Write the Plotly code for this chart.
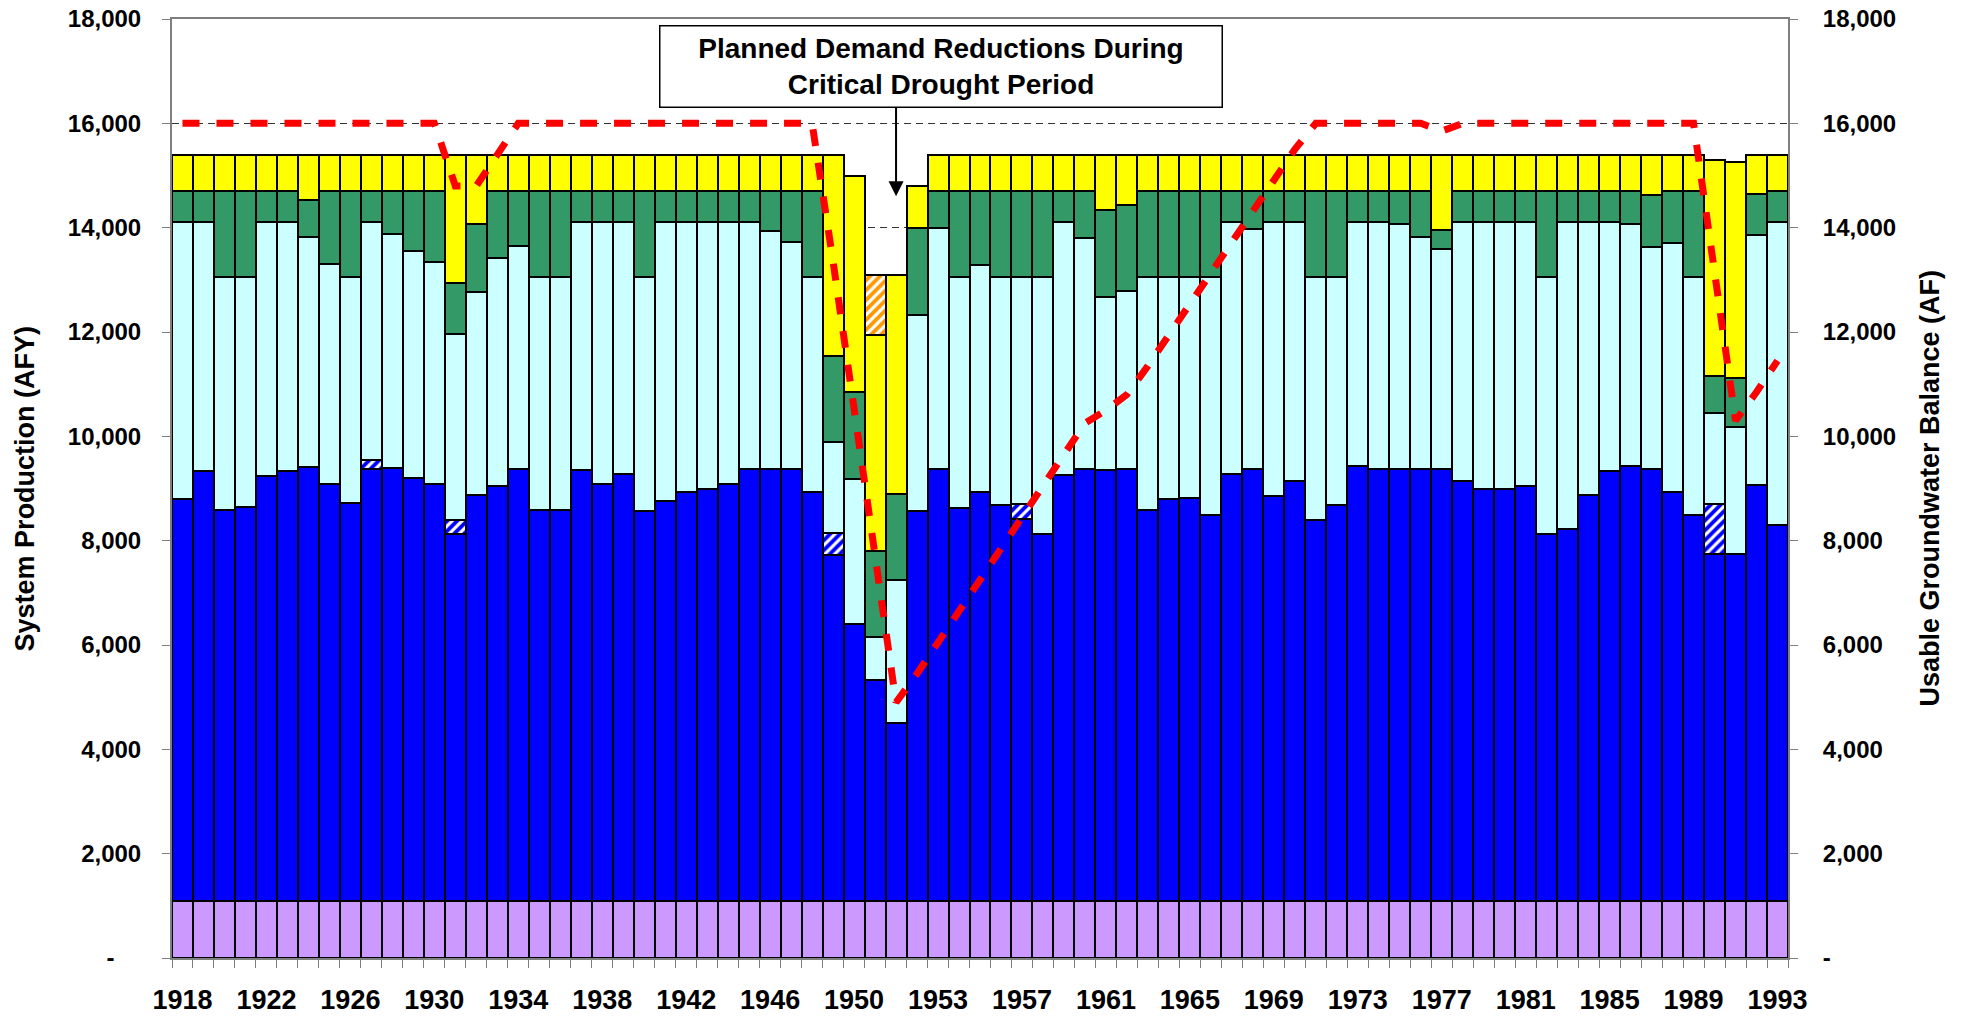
import plotly.graph_objects as go

# bar index 0..76 (water years 1918-1993, one extra drought year in the early 1950s)
n_bars = 77
tick_labels = ["1918", "1922", "1926", "1930", "1934", "1938", "1942", "1946", "1950", "1953",
               "1957", "1961", "1965", "1969", "1973", "1977", "1981", "1985", "1989", "1993"]

# stacked series, AFY
base_supply = [1100] * 77
groundwater = [7700, 8230, 7480, 7550, 8140, 8240, 8310, 7990, 7620, 8280,
               8290, 8100, 7990, 7030, 7780, 7950, 8280, 7490, 7480, 8260,
               7980, 8170, 7460, 7670, 7830, 7890, 7990, 8270, 8270, 8270,
               7830, 6620, 5300, 4230, 3400, 7470, 8280, 7530, 7830, 7580,
               7320, 7030, 8150, 8280, 8260, 8280, 7490, 7700, 7720, 7390,
               8180, 8280, 7760, 8040, 7300, 7590, 8340, 8280, 8280, 8280,
               8280, 8040, 7900, 7900, 7940, 7030, 7130, 7780, 8240, 8330,
               8280, 7830, 7390, 6640, 6640, 7970, 7210]
groundwater_extra = {9: 170, 13: 270, 31: 430, 40: 280, 73: 960}
surface_water = [5300, 4770, 4470, 4400, 4860, 4760, 4410, 4220, 4330, 4550,
                 4480, 4350, 4250, 3570, 3890, 4370, 4270, 4460, 4470, 4740,
                 5020, 4830, 4490, 5330, 5170, 5110, 5010, 4730, 4570, 4360,
                 4120, 1740, 2790, 820, 2750, 3750, 4620, 4420, 4350, 4370,
                 4350, 4920, 4850, 4430, 3310, 3400, 4460, 4250, 4230, 4560,
                 4820, 4600, 5240, 4960, 4650, 4360, 4660, 4720, 4690, 4440,
                 4210, 4960, 5100, 5100, 5060, 4920, 5870, 5220, 4760, 4640,
                 4250, 4780, 4560, 1740, 2440, 4780, 5790]
imported = [600, 600, 1650, 1650, 600, 600, 710, 1390, 1650, 600,
            830, 1150, 1360, 960, 1300, 1280, 1050, 1650, 1650, 600,
            600, 600, 1650, 600, 600, 600, 600, 600, 760, 970,
            1650, 1650, 1660, 1650, 1650, 1680, 700, 1650, 1420, 1650,
            1650, 1650, 600, 890, 1660, 1650, 1650, 1650, 1650, 1650,
            600, 720, 600, 600, 1650, 1650, 600, 600, 630, 880,
            370, 600, 600, 600, 600, 1650, 600, 600, 600, 630,
            990, 990, 1650, 710, 930, 800, 600]
demand_reduction = [700, 700, 700, 700, 700, 700, 870, 700, 700, 700,
                    700, 700, 700, 2470, 1330, 700, 700, 700, 700, 700,
                    700, 700, 700, 700, 700, 700, 700, 700, 700, 700,
                    700, 3860, 4150, 4150, 4200, 800, 700, 700, 700, 700,
                    700, 700, 700, 700, 1070, 970, 700, 700, 700, 700,
                    700, 700, 700, 700, 700, 700, 700, 700, 700, 700,
                    1440, 700, 700, 700, 700, 700, 700, 700, 700, 700,
                    780, 700, 700, 4150, 4140, 750, 700]
shortage = {33: 1150}

# secondary axis, AF
usable_balance = [16000, 16000, 16000, 16000, 16000, 16000, 16000, 16000, 16000, 16000,
                  16000, 16000, 16000, 14800, 14800, 15400, 16000, 16000, 16000, 16000,
                  16000, 16000, 16000, 16000, 16000, 16000, 16000, 16000, 16000, 16000,
                  16000, 13350, 10500, 7700, 4900, 5450, 6050, 6650, 7250, 7850,
                  8450, 9050, 9650, 10250, 10500, 10800, 11350, 11950, 12550, 13150,
                  13700, 14300, 14900, 15500, 16000, 16000, 16000, 16000, 16000, 16000,
                  15850, 16000, 16000, 16000, 16000, 16000, 16000, 16000, 16000, 16000,
                  16000, 16000, 16000, 13150, 10300, 10850, 11450]

y_ticks = list(range(0, 18001, 2000))
left_text = ["-\u00a0\u00a0\u00a0\u00a0"] + [f"{v:,}" for v in y_ticks[1:]]
right_text = ["-"] + [f"{v:,}" for v in y_ticks[1:]]

x = list(range(n_bars))
edge = dict(color="black", width=2)
font = "Liberation Sans, Arial, sans-serif"

fig = go.Figure()
fig.add_bar(x=x, y=base_supply, marker=dict(color="#CC99FF", line=edge))
fig.add_bar(x=x, y=groundwater, marker=dict(color="#0000FF", line=edge))
fig.add_bar(x=x, y=[groundwater_extra.get(i) for i in x],
            marker=dict(color="#0000FF", line=edge,
                        pattern=dict(shape="/", fgcolor="white", bgcolor="#0000FF",
                                     size=7, solidity=0.45, fillmode="replace")))
fig.add_bar(x=x, y=surface_water, marker=dict(color="#CCFFFF", line=edge))
fig.add_bar(x=x, y=imported, marker=dict(color="#339966", line=edge))
fig.add_bar(x=x, y=demand_reduction, marker=dict(color="#FFFF00", line=edge))
fig.add_bar(x=x, y=[shortage.get(i) for i in x],
            marker=dict(color="#FF9900", line=edge,
                        pattern=dict(shape="/", fgcolor="white", bgcolor="#FF9900",
                                     size=7, solidity=0.45, fillmode="replace")))
fig.add_scatter(x=x, y=usable_balance, yaxis="y2", mode="lines",
                line=dict(color="#FF0000", width=7, dash="17px,17px"))

axis_line = "#7f7f7f"
fig.update_layout(
    width=1961, height=1018,
    margin=dict(l=172, r=173, t=19, b=60, autoexpand=False),
    barmode="stack", bargap=0,
    showlegend=False,
    plot_bgcolor="white", paper_bgcolor="white",
    font=dict(family=font, color="black"),
    xaxis=dict(range=[-0.5, 76.5], tickmode="array", tickvals=list(range(0, 77, 4)),
               ticktext=tick_labels, ticks="", ticklabelstandoff=17,
               tickfont=dict(size=27, weight="bold"), automargin=False,
               ticklabeloverflow="allow",
               minor=dict(tickmode="linear", tick0=-0.5, dtick=1, ticks="outside",
                          ticklen=8, tickcolor=axis_line, showgrid=False),
               showline=True, linecolor=axis_line, linewidth=2, mirror=True,
               showgrid=False, zeroline=False),
    yaxis=dict(range=[0, 18000], tickmode="array", tickvals=y_ticks, ticktext=left_text,
               ticks="outside", ticklen=8, tickcolor=axis_line, ticklabelstandoff=16,
               tickfont=dict(size=24, weight="bold"), automargin=False,
               ticklabeloverflow="allow",
               showline=True, linecolor=axis_line, linewidth=2,
               showgrid=True, gridcolor="#333333", gridwidth=1, griddash="7px,5px",
               zeroline=False),
    yaxis2=dict(range=[0, 18000], overlaying="y", side="right", tickmode="array",
                tickvals=y_ticks, ticktext=right_text, automargin=False,
                ticks="outside", ticklen=8, tickcolor=axis_line, ticklabelstandoff=20,
                tickfont=dict(size=24, weight="bold"), ticklabeloverflow="allow",
                showline=True, linecolor=axis_line, linewidth=2,
                showgrid=False, zeroline=False),
)

fig.add_annotation(xref="paper", yref="paper", x=-0.091, y=0.5, textangle=-90,
                   text="System Production (AFY)", showarrow=False,
                   font=dict(size=27, weight="bold"), xanchor="center", yanchor="middle")
fig.add_annotation(xref="paper", yref="paper", x=1.0873, y=0.5, textangle=-90,
                   text="Usable Groundwater Balance (AF)", showarrow=False,
                   font=dict(size=27, weight="bold"), xanchor="center", yanchor="middle")

# callout box and arrow for the drought period
fig.add_annotation(xref="paper", yref="paper", x=0.4757, y=0.9499,
                   text="Planned Demand Reductions During<br>Critical Drought Period",
                   showarrow=False, font=dict(size=28, weight="bold"),
                   bgcolor="white", bordercolor="black", borderwidth=1.5, borderpad=2,
                   width=557, height=76, xanchor="center", yanchor="middle")
fig.add_annotation(x=34, y=14600, xref="x", yref="y", text="", showarrow=True,
                   ax=0, ay=-90, arrowhead=2, arrowsize=1.5, arrowwidth=2,
                   arrowcolor="black", standoff=0)

# drop the browser's default body margin so the figure fills the window
fig.write_html("out.html", config={"displayModeBar": False},
               post_script="document.body.style.margin = '0';")
